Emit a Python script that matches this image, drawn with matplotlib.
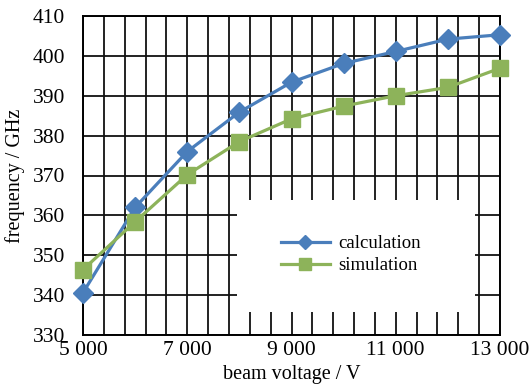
import numpy as np
import matplotlib
matplotlib.use('Agg')
import matplotlib.pyplot as plt
from matplotlib.ticker import FixedLocator, FuncFormatter
from matplotlib.patches import Rectangle

# Data
voltage = [5000, 6000, 7000, 8000, 9000, 10000, 11000, 12000, 13000]
calculation = [340.6, 362.0, 376.0, 385.9, 393.4, 398.1, 401.1, 404.2, 405.3]
simulation = [346.4, 358.4, 370.2, 378.5, 384.2, 387.4, 390.0, 392.1, 396.9]
x_ticks = [5000, 7000, 9000, 11000, 13000]
y_ticks = [330, 340, 350, 360, 370, 380, 390, 400, 410]

plt.rcParams['font.family'] = ['Liberation Serif', 'DejaVu Serif']

fig = plt.figure(figsize=(5.29, 3.89), dpi=100)
ax = fig.add_axes([83 / 529, 1 - 335 / 389, 417 / 529, 319 / 389])

blue = '#4A7EBB'
green = '#8DB35A'

ax.plot(voltage, calculation, color=blue, lw=2.3, marker='D', ms=10,
        label='calculation', zorder=3, clip_on=False)
ax.plot(voltage, simulation, color=green, lw=2.3, marker='s', ms=11,
        label='simulation', zorder=3, clip_on=False)

ax.set_xlim(5000, 13000)
ax.set_ylim(330, 410)
ax.xaxis.set_major_locator(FixedLocator(x_ticks))
ax.xaxis.set_minor_locator(FixedLocator(np.arange(5000, 13001, 400)))
ax.yaxis.set_major_locator(FixedLocator(y_ticks))
ax.xaxis.set_major_formatter(FuncFormatter(lambda v, p: f'{int(v):,}'.replace(',', ' ')))

ax.set_axisbelow(True)
ax.grid(which='both', axis='x', color='#111111', lw=1.3)
ax.grid(which='major', axis='y', color='#111111', lw=1.3)
ax.tick_params(which='both', length=0, labelsize=15.5)
ax.tick_params(axis='x', pad=4)
ax.tick_params(axis='y', pad=13)
for s in ax.spines.values():
    s.set_color('black')
    s.set_linewidth(1.4)

# white panel behind legend
ax.add_patch(Rectangle((0.369, 0.072), 0.571, 0.351, transform=ax.transAxes,
                       facecolor='white', edgecolor='none', zorder=1))

ax.legend(loc='center left', bbox_to_anchor=(0.475, 0.252), frameon=False,
          fontsize=13.5, handlelength=2.6, handletextpad=0.45, labelspacing=0.25,
          borderpad=0, borderaxespad=0, markerscale=0.75)

ax.set_xlabel('beam voltage / V', fontsize=14.5)
ax.set_ylabel('frequency / GHz', fontsize=14.5)
ax.xaxis.set_label_coords(0.5, -0.095)
ax.yaxis.set_label_coords(-0.139, 0.5)

fig.savefig('out.png', dpi=100)
